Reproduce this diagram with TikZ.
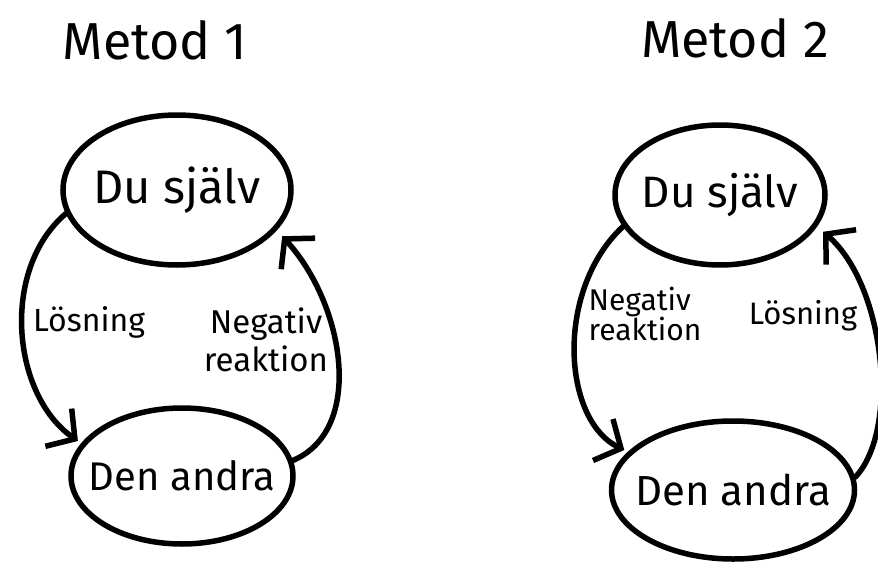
\documentclass[tikz,border=0pt]{standalone}
\usepackage{fontspec}
\setmainfont{Fira Sans}
\usetikzlibrary{shapes.geometric,arrows.meta}
\tikzset{
  bubble/.style={draw, ellipse, line width=5.5pt, inner sep=0pt},
  title/.style={font=\fontsize{52}{56}\selectfont},
  lbl/.style={align=left},
  arr/.style={line width=5.5pt, line cap=round, -{Straight Barb[length=20pt, width=46pt, line width=5.5pt]}}
}
\begin{document}
\begin{tikzpicture}[x=1pt,y=-1pt]
\useasboundingbox (0,0) rectangle (878,562);
% Metod 1
\node[title] (m1) at (155,40) {Metod 1};
\node[bubble, minimum width=228pt, minimum height=150pt, font=\fontsize{47}{48}\selectfont] (t1) at (177,190) {\makebox[0pt]{Du själv}};
\node[bubble, minimum width=222pt, minimum height=136pt, font=\fontsize{40}{42}\selectfont] (b1) at (182,476) {\makebox[0pt]{Den andra}};
\node[lbl, font=\fontsize{32}{34}\selectfont] (l1) at (89,322) {Lösning};
\node[lbl, align=center, font=\fontsize{33}{38}\selectfont] (n1) at (266,340) {Negativ\\reaktion};
\draw[arr, shorten >=4pt] (t1.192) .. controls (0,270) and (12,395) .. (b1.162);
\draw[arr, shorten >=8pt] (b1.8) .. controls (365,430) and (345,305) .. (t1.-22);
% Metod 2
\node[title] (m2) at (735,38) {Metod 2};
\node[bubble, minimum width=210pt, minimum height=140pt, font=\fontsize{44}{46}\selectfont] (t2) at (720,195) {\makebox[0pt]{Du själv}};
\node[bubble, minimum width=243pt, minimum height=138pt, font=\fontsize{42}{44}\selectfont] (b2) at (733,490) {\makebox[0pt]{Den andra}};
\node[lbl, align=left, font=\fontsize{30}{28}\selectfont] (n2) at (645,314) {Negativ\\reaktion};
\node[lbl, font=\fontsize{31}{32}\selectfont] (l2) at (803,316) {Lösning};
\draw[arr, shorten >=4pt] (t2.198) .. controls (555,290) and (562,420) .. (b2.160);
\draw[arr, shorten >=8pt] (b2.6) .. controls (900,430) and (885,285) .. (t2.-18);
\end{tikzpicture}
\end{document}
